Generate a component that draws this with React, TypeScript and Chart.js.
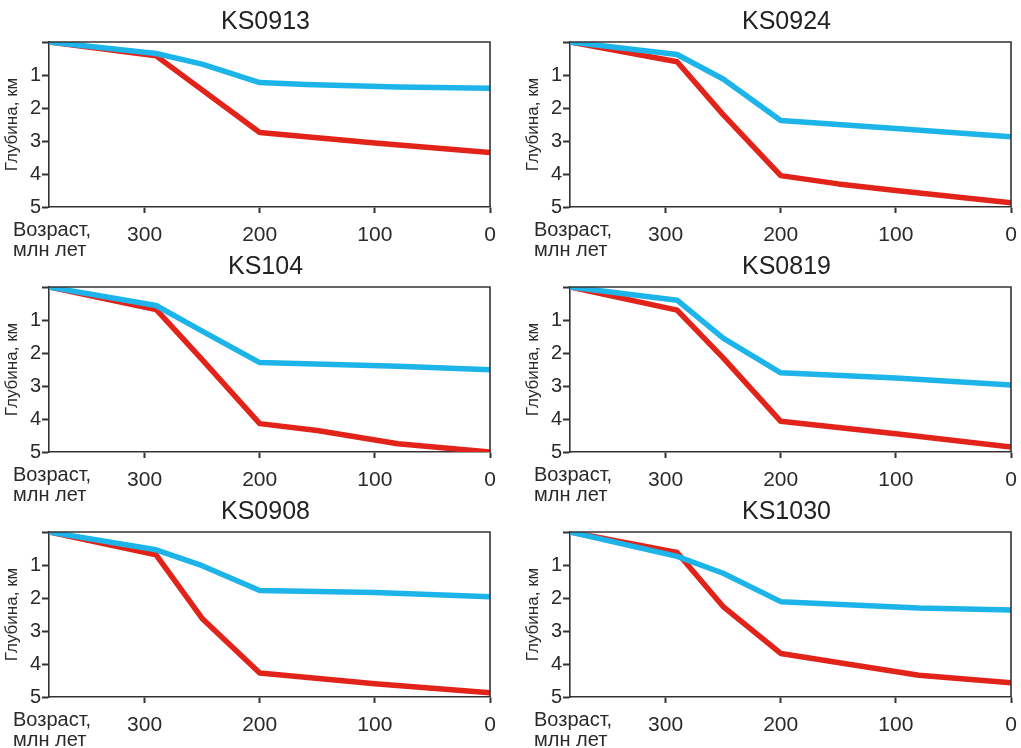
import React, { useEffect, useRef } from "react";
import { Chart, registerables } from "chart.js";

Chart.register(...registerables);

// ---- Data ----
const wellNames = ["KS0913", "KS0924", "KS104", "KS0819", "KS0908", "KS1030"];

const xTickValues = [0, 100, 200, 300];
const yTickValues = [0, 1, 2, 3, 4, 5];

const blueAges = [
  [383, 290, 250, 200, 160, 80, 0],
  [383, 290, 250, 200, 100, 0],
  [383, 290, 250, 200, 80, 0],
  [383, 290, 250, 200, 100, 0],
  [383, 290, 250, 200, 100, 0],
  [383, 290, 250, 200, 80, 0],
];
const blueDepths = [
  [0, 0.35, 0.67, 1.23, 1.29, 1.36, 1.4],
  [0, 0.38, 1.12, 2.38, 2.62, 2.87],
  [0, 0.56, 1.34, 2.29, 2.4, 2.51],
  [0, 0.4, 1.55, 2.6, 2.76, 2.97],
  [0, 0.54, 1.02, 1.77, 1.83, 1.96],
  [0, 0.74, 1.25, 2.11, 2.3, 2.36],
];

const redAges = [
  [383, 290, 200, 100, 0],
  [383, 290, 250, 200, 150, 100, 0],
  [383, 290, 250, 200, 150, 80, 0],
  [383, 290, 250, 200, 100, 0],
  [383, 290, 250, 200, 100, 0],
  [383, 290, 250, 200, 80, 0],
];
const redDepths = [
  [0, 0.42, 2.74, 3.06, 3.35],
  [0, 0.6, 2.2, 4.05, 4.3, 4.5, 4.87],
  [0, 0.68, 2.2, 4.14, 4.35, 4.75, 5.0],
  [0, 0.7, 2.15, 4.07, 4.45, 4.85],
  [0, 0.69, 2.62, 4.27, 4.6, 4.87],
  [0, 0.62, 2.26, 3.68, 4.34, 4.57],
];

const yAxisTitle = "Глубина, км";
const xAxisTitleLines = ["Возраст,", "млн лет"];

// ---- Styling ----
const FONT = "'Liberation Sans', Arial, sans-serif";
const TEXT = "#2a2a2a";
const AXIS = "#333333";
const BLUE = "#1db4ea";
const RED = "#e2231a";

const CW = 510;
const CH = 262;

const decorPlugin = {
  id: "decor",
  afterDraw(chart: any, _args: any, opts: any) {
    const { ctx, chartArea } = chart;
    const { left, right, top, bottom } = chartArea;
    ctx.save();
    // box (top + right)
    ctx.strokeStyle = AXIS;
    ctx.lineWidth = 1.6;
    ctx.beginPath();
    ctx.moveTo(left, top);
    ctx.lineTo(right, top);
    ctx.lineTo(right, bottom);
    ctx.stroke();
    // title
    ctx.fillStyle = "#222";
    ctx.font = `25px ${FONT}`;
    ctx.textAlign = "center";
    ctx.textBaseline = "middle";
    ctx.fillText(opts.title, (left + right) / 2 - 4, 22);
    // y title
    ctx.save();
    ctx.translate(17, (top + bottom) / 2);
    ctx.rotate(-Math.PI / 2);
    ctx.font = `17px ${FONT}`;
    ctx.fillStyle = TEXT;
    ctx.textAlign = "center";
    ctx.textBaseline = "alphabetic";
    ctx.fillText(yAxisTitle, 0, 0);
    ctx.restore();
    // x title
    ctx.font = `20px ${FONT}`;
    ctx.fillStyle = TEXT;
    ctx.textAlign = "left";
    ctx.textBaseline = "middle";
    ctx.fillText(xAxisTitleLines[0], 13, bottom + 23);
    ctx.fillText(xAxisTitleLines[1], 13, bottom + 43);
    ctx.restore();
  },
};

function Panel({ idx, left, top }: { idx: number; left: number; top: number }) {
  const ref = useRef<HTMLCanvasElement | null>(null);
  useEffect(() => {
    if (!ref.current) return;
    const toPts = (xs: number[], ys: number[]) => xs.map((x, i) => ({ x, y: ys[i] }));
    const chart = new Chart(ref.current, {
      type: "line",
      data: {
        datasets: [
          {
            label: "blue",
            data: toPts(blueAges[idx], blueDepths[idx]),
            borderColor: BLUE,
            borderWidth: 5.5,
            pointRadius: 0,
            tension: 0,
            borderJoinStyle: "round",
            borderCapStyle: "butt",
            order: 0,
          },
          {
            label: "red",
            data: toPts(redAges[idx], redDepths[idx]),
            borderColor: RED,
            borderWidth: 5.5,
            pointRadius: 0,
            tension: 0,
            borderJoinStyle: "round",
            borderCapStyle: "butt",
            order: 1,
          },
        ],
      },
      options: {
        responsive: false,
        animation: false,
        devicePixelRatio: 1,
        layout: { padding: { top: 42, left: 0, right: 20, bottom: 0 } },
        plugins: {
          legend: { display: false },
          tooltip: { enabled: false },
          title: { display: false },
          decor: { title: wellNames[idx] },
        } as any,
        scales: {
          x: {
            type: "linear",
            min: 0,
            max: 383,
            reverse: true,
            afterBuildTicks: (s: any) => {
              s.ticks = xTickValues.map((v) => ({ value: v }));
            },
            afterFit: (s: any) => {
              s.height = CH - 207;
            },
            grid: {
              drawOnChartArea: false,
              drawTicks: true,
              tickLength: 6,
              tickWidth: 2,
              tickColor: AXIS,
            },
            border: { display: true, color: AXIS, width: 1.6 },
            ticks: {
              color: TEXT,
              font: { family: FONT, size: 21 },
              padding: 10,
              maxRotation: 0,
              autoSkip: false,
            },
          },
          y: {
            type: "linear",
            min: 0,
            max: 5,
            reverse: true,
            afterBuildTicks: (s: any) => {
              s.ticks = yTickValues.map((v) => ({ value: v }));
            },
            afterFit: (s: any) => {
              s.width = 49;
            },
            grid: {
              drawOnChartArea: false,
              drawTicks: true,
              tickLength: 7,
              tickWidth: 2,
              tickColor: AXIS,
            },
            border: { display: true, color: AXIS, width: 1.6 },
            ticks: {
              color: TEXT,
              font: { family: FONT, size: 20 },
              padding: 1,
              autoSkip: false,
              callback: (v: any) => (v === 0 ? "" : String(v)),
            },
          },
        },
      },
      plugins: [decorPlugin],
    });
    return () => chart.destroy();
  }, [idx]);
  return (
    <canvas
      ref={ref}
      width={CW}
      height={CH}
      style={{ position: "absolute", left, top, width: CW, height: CH }}
    />
  );
}

export default function App() {
  const positions = [
    { left: 0, top: 0 },
    { left: 521, top: 0 },
    { left: 0, top: 245 },
    { left: 521, top: 245 },
    { left: 0, top: 490 },
    { left: 521, top: 490 },
  ];
  return (
    <div
      style={{
        position: "fixed",
        left: 0,
        top: 0,
        width: 1021,
        height: 748,
        overflow: "hidden",
        background: "#fff",
      }}
    >
      {positions.map((p, i) => (
        <Panel key={i} idx={i} left={p.left} top={p.top} />
      ))}
    </div>
  );
}
